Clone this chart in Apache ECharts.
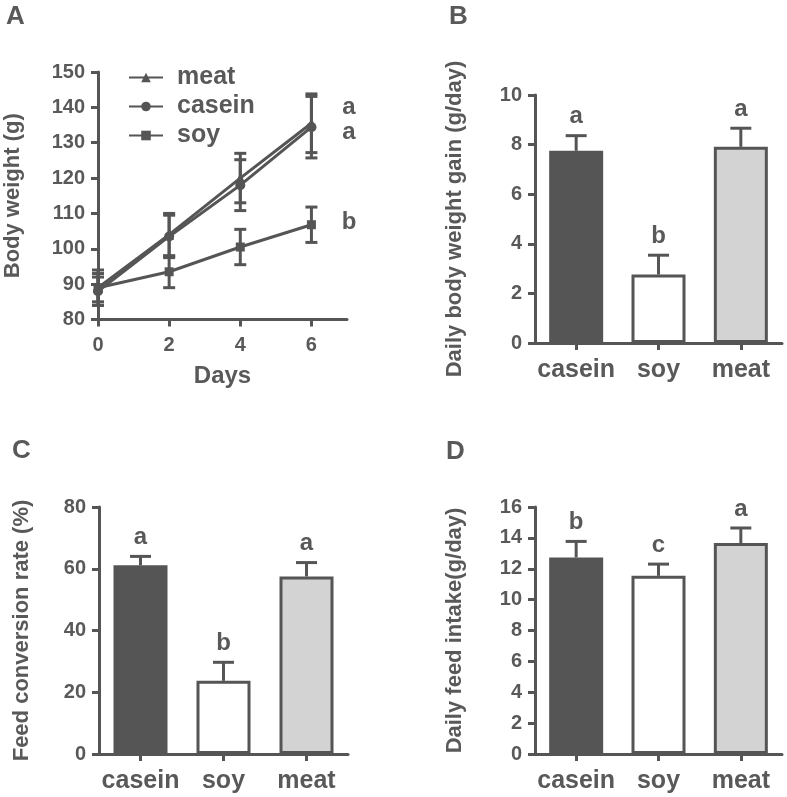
<!DOCTYPE html>
<html><head><meta charset="utf-8">
<script src="https://cdn.jsdelivr.net/npm/echarts@6/dist/echarts.min.js"></script>
<style>html,body{margin:0;padding:0;background:#fff}#c{width:787px;height:797px}</style>
</head><body><div id="c"></div>
<script>
// ---- Panel A: body weight over days ----
const days = [0, 2, 4, 6];
const meatWeight = [89, 104, 120, 135.5];
const meatWeightErr = [4, 6, 7, 8.3];
const caseinWeight = [88, 103.5, 118, 134.4];
const caseinWeightErr = [4, 6, 7.2, 8.7];
const soyWeight = [89, 93.5, 100.5, 106.8];
const soyWeightErr = [5, 4.5, 5, 5];
const weightLetters = ['a', 'a', 'b'];
const weightLetterY = [140, 133, 107.5];
const dayTicks = [0, 2, 4, 6];

// ---- Bar panels ----
const groups = ['casein', 'soy', 'meat'];
const gainMean = [7.75, 2.76, 7.91];
const gainErr = [0.61, 0.78, 0.75];
const gainLetters = ['a', 'b', 'a'];
const fcrMean = [61.1, 23.7, 57.5];
const fcrErr = [2.9, 6.0, 4.5];
const fcrLetters = ['a', 'b', 'a'];
const intakeMean = [12.73, 11.54, 13.66];
const intakeErr = [1.04, 0.76, 0.98];
const intakeLetters = ['b', 'c', 'a'];

// styles
const INK = '#555555';
const TXT = '#595959';
const FONT = '"Liberation Sans", Arial, sans-serif';
const barColors = ['#555555', '#ffffff', '#d3d3d3'];

const chart = echarts.init(document.getElementById('c'), null, {renderer: 'canvas'});

function axisBase() {
  return {
    axisLine: {show: true, onZero: false, lineStyle: {color: INK, width: 3}},
    axisTick: {show: true, length: 7, lineStyle: {color: INK, width: 3}},
    splitLine: {show: false},
    axisLabel: {color: TXT, fontFamily: FONT, fontWeight: 'bold', fontSize: 20, margin: 13},
    nameTextStyle: {color: TXT, fontFamily: FONT, fontWeight: 'bold', fontSize: 22}
  };
}
function valueY(gridIndex, min, max, interval, name, nameGap) {
  return Object.assign(axisBase(), {
    type: 'value', gridIndex, min, max, interval, name, nameLocation: 'middle', nameGap
  });
}
function catX(gridIndex) {
  const a = axisBase();
  a.axisTick.alignWithLabel = true;
  a.axisLabel.fontSize = 25;
  a.axisLabel.margin = 15;
  a.axisLabel.interval = 0;
  a.axisLabel.hideOverlap = false;
  return Object.assign(a, {type: 'category', gridIndex, data: groups, boundaryGap: true});
}

function errSeriesXY(xIdx, yIdx, xs, means, errs, capW) {
  return {
    type: 'custom', xAxisIndex: xIdx, yAxisIndex: yIdx, z: 3,
    data: xs.map((x, i) => [x, means[i], errs[i]]),
    renderItem: function (params, api) {
      const x = api.value(0), m = api.value(1), e = api.value(2);
      const lo = api.coord([x, m - e]);
      const hi = api.coord([x, m + e]);
      const st = {stroke: INK, lineWidth: 3};
      return {type: 'group', children: [
        {type: 'line', shape: {x1: lo[0], y1: lo[1], x2: hi[0], y2: hi[1]}, style: st},
        {type: 'line', shape: {x1: lo[0] - capW / 2, y1: lo[1], x2: lo[0] + capW / 2, y2: lo[1]}, style: st},
        {type: 'line', shape: {x1: hi[0] - capW / 2, y1: hi[1], x2: hi[0] + capW / 2, y2: hi[1]}, style: st}
      ]};
    }
  };
}

function barErrSeries(idx, means, errs, letters) {
  return {
    type: 'custom', xAxisIndex: idx, yAxisIndex: idx, z: 1,
    data: means.map((m, i) => [i, m, errs[i]]),
    renderItem: function (params, api) {
      const i = api.value(0), m = api.value(1), e = api.value(2);
      const letter = letters[params.dataIndex];
      const base = api.coord([i, m]);
      const top = api.coord([i, m + e]);
      const st = {stroke: INK, lineWidth: 3};
      return {type: 'group', children: [
        {type: 'line', shape: {x1: base[0], y1: base[1], x2: top[0], y2: top[1]}, style: st},
        {type: 'line', shape: {x1: top[0] - 10.5, y1: top[1], x2: top[0] + 10.5, y2: top[1]}, style: st},
        {type: 'text', style: {x: top[0], y: top[1] - 19, text: letter, align: 'center', verticalAlign: 'middle',
          fill: TXT, font: 'bold 24px ' + FONT}}
      ]};
    }
  };
}

function barSeries(idx, means) {
  return {
    type: 'bar', xAxisIndex: idx, yAxisIndex: idx, barWidth: 54, z: 2,
    data: means.map((v, i) => ({value: v, itemStyle: {color: barColors[i]}})),
    itemStyle: {borderColor: INK, borderWidth: 3}
  };
}

function lineSeries(name, ys, symbol, size) {
  return {
    type: 'line', name, xAxisIndex: 0, yAxisIndex: 0, z: 4,
    data: days.map((d, i) => [d, ys[i]]),
    symbol, symbolSize: size, showSymbol: true,
    lineStyle: {color: INK, width: 3}, itemStyle: {color: INK}
  };
}

const xA = Object.assign(axisBase(), {
  type: 'value', gridIndex: 0, min: 0, max: 7, name: 'Days', nameLocation: 'middle', nameGap: 45
});
xA.axisTick.customValues = dayTicks;
xA.axisLabel.customValues = dayTicks;
xA.axisLabel.margin = 16;
xA.nameTextStyle.fontSize = 24;
const yA = valueY(0, 80, 150, 10, 'Body weight (g)', 74);

const option = {
  animation: false,
  backgroundColor: '#ffffff',
  textStyle: {fontFamily: FONT},
  grid: [
    {left: 98, top: 72, width: 249, height: 247.5},
    {left: 535, top: 95, width: 247, height: 248},
    {left: 99, top: 507, width: 249, height: 247},
    {left: 535, top: 507, width: 247, height: 247}
  ],
  xAxis: [xA, catX(1), catX(2), catX(3)],
  yAxis: [
    yA,
    valueY(1, 0, 10, 2, 'Daily body weight gain (g/day)', 69),
    valueY(2, 0, 80, 20, 'Feed conversion rate (%)', 66),
    valueY(3, 0, 16, 2, 'Daily feed intake(g/day)', 69)
  ],
  legend: {
    data: ['meat', 'casein', 'soy'], orient: 'vertical', left: 123, top: 60,
    itemWidth: 34, itemHeight: 12, itemGap: 4, selectedMode: false,
    textStyle: {color: TXT, fontFamily: FONT, fontWeight: 'bold', fontSize: 25, padding: [0, 0, 0, 9]}
  },
  graphic: [
    {type: 'text', left: 6, top: 4, style: {text: 'A', fill: TXT, font: 'bold 26px ' + FONT}},
    {type: 'text', left: 449, top: 4, style: {text: 'B', fill: TXT, font: 'bold 26px ' + FONT}},
    {type: 'text', left: 12, top: 438, style: {text: 'C', fill: TXT, font: 'bold 26px ' + FONT}},
    {type: 'text', left: 446, top: 439, style: {text: 'D', fill: TXT, font: 'bold 26px ' + FONT}}
  ],
  series: [
    lineSeries('meat', meatWeight, 'triangle', 10),
    lineSeries('casein', caseinWeight, 'circle', 10),
    lineSeries('soy', soyWeight, 'rect', 9),
    errSeriesXY(0, 0, days, meatWeight, meatWeightErr, 12),
    errSeriesXY(0, 0, days, caseinWeight, caseinWeightErr, 12),
    errSeriesXY(0, 0, days, soyWeight, soyWeightErr, 12),
    {
      type: 'custom', xAxisIndex: 0, yAxisIndex: 0, silent: true, z: 5,
      data: weightLetterY.map(y => [7, y]),
      renderItem: function (params, api) {
        const p = api.coord([api.value(0), api.value(1)]);
        return {type: 'text', style: {x: p[0] + 2, y: p[1], text: weightLetters[params.dataIndex],
          align: 'center', verticalAlign: 'middle', fill: TXT, font: 'bold 24px ' + FONT}};
      }
    },
    barSeries(1, gainMean), barErrSeries(1, gainMean, gainErr, gainLetters),
    barSeries(2, fcrMean), barErrSeries(2, fcrMean, fcrErr, fcrLetters),
    barSeries(3, intakeMean), barErrSeries(3, intakeMean, intakeErr, intakeLetters)
  ]
};
chart.setOption(option);
</script></body></html>
